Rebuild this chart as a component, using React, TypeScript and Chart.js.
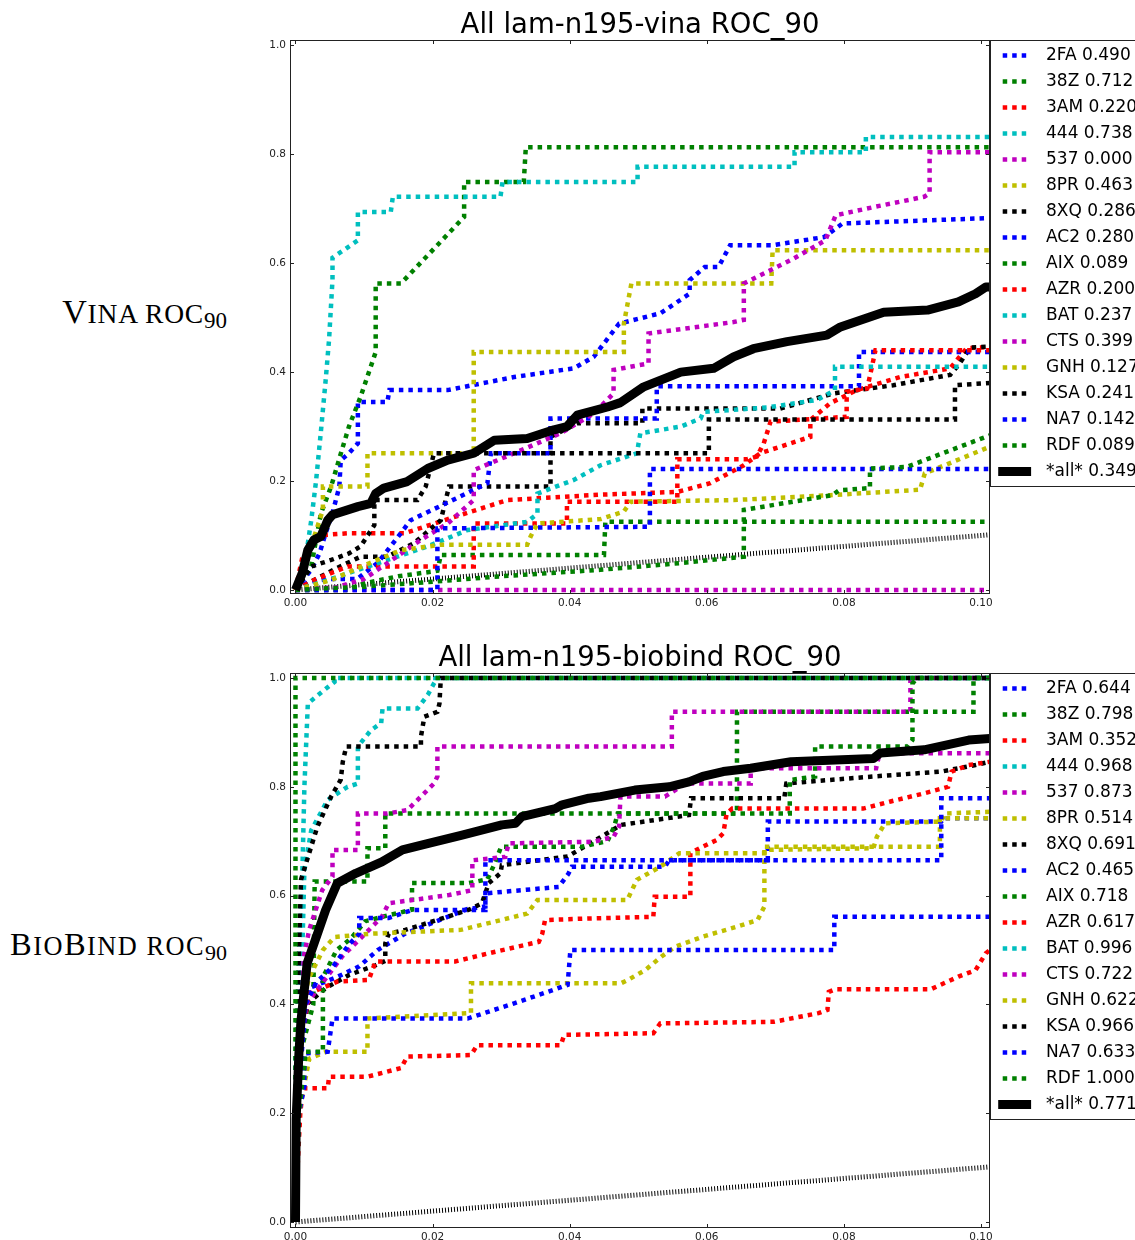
import React, { useEffect, useRef } from 'react';
import { Chart, registerables } from 'chart.js';

Chart.register(...registerables);

type Pt = [number, number];

// ---------- shared data ----------
const targets: string[] = ['2FA', '38Z', '3AM', '444', '537', '8PR', '8XQ', 'AC2', 'AIX', 'AZR', 'BAT', 'CTS', 'GNH', 'KSA', 'NA7', 'RDF', '*all*'];
const lineColors: string[] = ['#0000ff', '#008000', '#ff0000', '#00bfbf', '#bf00bf', '#bfbf00', '#000000', '#0000ff', '#008000', '#ff0000', '#00bfbf', '#bf00bf', '#bfbf00', '#000000', '#0000ff', '#008000', '#000000'];
const vinaAuc: number[] = [0.490, 0.712, 0.220, 0.738, 0.000, 0.463, 0.286, 0.280, 0.089, 0.200, 0.237, 0.399, 0.127, 0.241, 0.142, 0.089, 0.349];
const biobindAuc: number[] = [0.644, 0.798, 0.352, 0.968, 0.873, 0.514, 0.691, 0.465, 0.718, 0.617, 0.996, 0.722, 0.622, 0.966, 0.633, 1.000, 0.771];
const xTicks: number[] = [0, 0.02, 0.04, 0.06, 0.08, 0.10];
const yTicks: number[] = [0, 0.2, 0.4, 0.6, 0.8, 1.0];
const randomLine: Pt[] = [[0, 0], [0.1013, 0.1013]];

// ---------- Vina ROC curves (FPR, TPR) ----------
const v2FA: Pt[] = [[0,0],[0.0023,0.037],[0.0035,0.067],[0.0044,0.104],[0.0054,0.141],[0.0064,0.19],[0.0066,0.238],[0.0078,0.251],[0.0091,0.269],[0.0091,0.345],[0.0134,0.345],[0.0137,0.367],[0.0222,0.367],[0.0319,0.391],[0.0406,0.407],[0.0435,0.428],[0.0472,0.489],[0.0532,0.508],[0.0575,0.544],[0.0575,0.569],[0.0597,0.593],[0.0617,0.593],[0.0634,0.633],[0.0696,0.633],[0.0771,0.648],[0.0798,0.673],[0.1013,0.683]];
const v38Z: Pt[] = [[0,0],[0.0023,0.043],[0.0037,0.14],[0.0052,0.19],[0.0066,0.25],[0.0078,0.30],[0.0095,0.355],[0.0117,0.437],[0.0117,0.563],[0.0154,0.563],[0.0246,0.685],[0.0246,0.749],[0.0333,0.749],[0.0336,0.813],[0.1013,0.813]];
const v3AM: Pt[] = [[0,0],[0.0005,0.03],[0.001,0.06],[0.002,0.08],[0.003,0.1],[0.0076,0.104],[0.0159,0.104],[0.0222,0.13],[0.0309,0.165],[0.0445,0.175],[0.0557,0.18],[0.0605,0.196],[0.0654,0.229],[0.0678,0.251],[0.0736,0.275],[0.0751,0.281],[0.0751,0.312],[0.078,0.343],[0.0819,0.367],[0.0882,0.391],[0.0955,0.407],[0.0979,0.444],[0.1013,0.446]];
const v444: Pt[] = [[0,0],[0.0013,0.043],[0.0023,0.128],[0.003,0.2],[0.0037,0.29],[0.0044,0.385],[0.0049,0.46],[0.0054,0.57],[0.0054,0.61],[0.0091,0.642],[0.0091,0.694],[0.0139,0.694],[0.0142,0.722],[0.0299,0.722],[0.0302,0.749],[0.0499,0.749],[0.0499,0.777],[0.0728,0.777],[0.0728,0.804],[0.0832,0.804],[0.0832,0.832],[0.1013,0.832]];
const v537: Pt[] = [[0,0],[0.1013,0]];
const v8PR: Pt[] = [[0,0],[0.002,0.07],[0.004,0.147],[0.004,0.19],[0.0105,0.19],[0.0105,0.251],[0.026,0.251],[0.026,0.437],[0.0479,0.437],[0.0479,0.489],[0.049,0.563],[0.0694,0.563],[0.0696,0.624],[0.1013,0.624]];
const v8XQ: Pt[] = [[0,0],[0.003,0.02],[0.006,0.04],[0.0095,0.061],[0.0134,0.061],[0.0173,0.086],[0.0212,0.128],[0.0224,0.19],[0.0372,0.19],[0.0372,0.281],[0.0411,0.306],[0.0506,0.306],[0.0506,0.333],[0.0707,0.333],[0.0785,0.361],[0.0872,0.376],[0.0955,0.395],[0.0969,0.416],[0.0984,0.445],[0.1013,0.447]];
const vAC2: Pt[] = [[0,0],[0.002,0.015],[0.005,0.02],[0.009,0.02],[0.012,0.05],[0.0145,0.09],[0.0168,0.128],[0.0221,0.16],[0.028,0.196],[0.0285,0.251],[0.0372,0.251],[0.0372,0.315],[0.0527,0.315],[0.0527,0.374],[0.0822,0.374],[0.0822,0.437],[0.1013,0.437]];
const vAIX: Pt[] = [[0,0],[0.0076,0],[0.01,0.012],[0.015,0.025],[0.0207,0.035],[0.0212,0.064],[0.045,0.064],[0.0452,0.125],[0.1013,0.125]];
const vAZR: Pt[] = [[0,0],[0.003,0.02],[0.0076,0.043],[0.026,0.043],[0.026,0.122],[0.0396,0.122],[0.0396,0.162],[0.0557,0.162],[0.0557,0.24],[0.0659,0.24],[0.0673,0.245],[0.0683,0.269],[0.0693,0.309],[0.0804,0.318],[0.0804,0.364],[0.0834,0.37],[0.0846,0.44],[0.1013,0.44]];
const vBAT: Pt[] = [[0,0],[0.0047,0.018],[0.0134,0.055],[0.0193,0.08],[0.0251,0.11],[0.0338,0.125],[0.0353,0.14],[0.0353,0.177],[0.0406,0.202],[0.0445,0.229],[0.0498,0.251],[0.0503,0.2875],[0.0562,0.30],[0.0591,0.315],[0.0595,0.327],[0.0688,0.335],[0.0761,0.349],[0.0787,0.367],[0.0787,0.41],[0.1013,0.41]];
const vCTS: Pt[] = [[0,0],[0.006,0.005],[0.01,0.02],[0.0134,0.049],[0.0183,0.092],[0.0222,0.122],[0.026,0.165],[0.026,0.22],[0.0319,0.251],[0.0387,0.288],[0.0435,0.324],[0.0464,0.361],[0.0464,0.404],[0.0515,0.416],[0.0515,0.471],[0.0639,0.492],[0.0654,0.496],[0.0654,0.563],[0.0723,0.606],[0.0773,0.642],[0.0788,0.688],[0.0843,0.703],[0.0917,0.722],[0.0925,0.728],[0.0925,0.804],[0.1013,0.804]];
const vGNH: Pt[] = [[0,0],[0.0052,0.018],[0.01,0.045],[0.0154,0.073],[0.0212,0.083],[0.0338,0.083],[0.0343,0.098],[0.0353,0.122],[0.0445,0.13],[0.0479,0.144],[0.0489,0.162],[0.0639,0.165],[0.078,0.174],[0.0911,0.184],[0.0918,0.214],[0.1013,0.263]];
const vKSA: Pt[] = [[0,0],[0.0023,0.043],[0.0052,0.055],[0.0078,0.067],[0.0095,0.08],[0.0115,0.119],[0.0115,0.165],[0.0178,0.165],[0.019,0.19],[0.0202,0.251],[0.0603,0.251],[0.0603,0.313],[0.0962,0.313],[0.0962,0.376],[0.1013,0.38]];
const vNA7: Pt[] = [[0,0],[0.0207,0],[0.0207,0.113],[0.0517,0.116],[0.0517,0.222],[0.1013,0.222]];
const vRDF: Pt[] = [[0,0],[0.01,0.006],[0.02,0.015],[0.03,0.025],[0.0445,0.037],[0.055,0.048],[0.0654,0.061],[0.0654,0.147],[0.0783,0.174],[0.0793,0.183],[0.0838,0.187],[0.0838,0.223],[0.0892,0.226],[0.1013,0.284]];
const vAll: Pt[] = [[0,0],[0.001,0.031],[0.0018,0.073],[0.0027,0.092],[0.0037,0.098],[0.0047,0.128],[0.0054,0.138],[0.0091,0.153],[0.011,0.159],[0.0117,0.177],[0.0129,0.187],[0.0163,0.199],[0.0193,0.223],[0.0222,0.2385],[0.026,0.251],[0.029,0.275],[0.0338,0.278],[0.0377,0.294],[0.0396,0.30],[0.0411,0.321],[0.0455,0.336],[0.0474,0.344],[0.0508,0.373],[0.0562,0.40],[0.061,0.407],[0.0639,0.428],[0.0668,0.443],[0.0717,0.456],[0.0775,0.468],[0.0795,0.483],[0.0858,0.51],[0.0922,0.514],[0.0967,0.529],[0.0992,0.544],[0.1007,0.5565],[0.1013,0.5565]];

// ---------- BioBind ROC curves (FPR, TPR) ----------
const b2FA: Pt[] = [[0,0],[0.0003,0.2],[0.001,0.35],[0.002,0.43],[0.004,0.44],[0.006,0.45],[0.0093,0.47],[0.012,0.5],[0.016,0.53],[0.02,0.55],[0.025,0.575],[0.0277,0.58],[0.0277,0.604],[0.033,0.61],[0.0384,0.616],[0.0398,0.64],[0.0403,0.653],[0.0539,0.653],[0.0545,0.665],[0.0689,0.665],[0.0689,0.736],[0.0942,0.736],[0.0945,0.742],[0.1013,0.742]];
const b38Z: Pt[] = [[0,0],[0.0005,0.3],[0.0026,0.4],[0.0028,0.626],[0.0105,0.626],[0.0105,0.687],[0.0131,0.687],[0.0131,0.751],[0.0644,0.751],[0.0644,0.938],[0.0989,0.938],[0.0989,1.0],[0.1013,1.0]];
const b3AM: Pt[] = [[0,0],[0.0003,0.1],[0.0007,0.2],[0.001,0.237],[0.0013,0.246],[0.0047,0.246],[0.0049,0.267],[0.0105,0.267],[0.0154,0.283],[0.0163,0.304],[0.0256,0.307],[0.0265,0.325],[0.0387,0.325],[0.0392,0.344],[0.0522,0.347],[0.0532,0.365],[0.0698,0.368],[0.0763,0.384],[0.0776,0.39],[0.0778,0.423],[0.0788,0.428],[0.0927,0.428],[0.0967,0.451],[0.0992,0.463],[0.1007,0.494],[0.1013,0.5]];
const b444: Pt[] = [[0,0],[0.0005,0.3],[0.001,0.5],[0.0013,0.647],[0.0023,0.72],[0.0047,0.776],[0.0076,0.80],[0.0091,0.806],[0.0091,0.874],[0.011,0.904],[0.0125,0.917],[0.0127,0.944],[0.0178,0.944],[0.0193,0.969],[0.0202,0.99],[0.0207,1.0],[0.1013,1.0]];
const b537: Pt[] = [[0,0],[0.0003,0.3],[0.001,0.475],[0.002,0.537],[0.0039,0.61],[0.0054,0.635],[0.0054,0.684],[0.0091,0.684],[0.0091,0.751],[0.0134,0.751],[0.0163,0.757],[0.0183,0.782],[0.0202,0.806],[0.0207,0.819],[0.0207,0.874],[0.0549,0.874],[0.0549,0.938],[0.0897,0.938],[0.0897,1.0],[0.1013,1.0]];
const b8PR: Pt[] = [[0,0],[0.0005,0.2],[0.002,0.3],[0.0045,0.313],[0.0105,0.313],[0.0105,0.374],[0.0256,0.384],[0.0256,0.439],[0.0475,0.439],[0.0485,0.445],[0.051,0.463],[0.0534,0.488],[0.0554,0.506],[0.0594,0.5245],[0.0644,0.543],[0.0674,0.555],[0.0684,0.58],[0.0684,0.684],[0.0843,0.687],[0.0848,0.708],[0.086,0.733],[0.0942,0.736],[0.0947,0.751],[0.1013,0.754]];
const b8XQ: Pt[] = [[0,0],[0.0005,0.3],[0.0018,0.402],[0.0044,0.43],[0.0078,0.454],[0.0117,0.472],[0.0131,0.48],[0.0131,0.512],[0.0136,0.53],[0.016,0.537],[0.0214,0.558],[0.0253,0.574],[0.0272,0.586],[0.0282,0.623],[0.0299,0.641],[0.0301,0.656],[0.0397,0.672],[0.0435,0.70],[0.0475,0.73],[0.0574,0.748],[0.0577,0.779],[0.0713,0.779],[0.0716,0.806],[0.0743,0.809],[0.0843,0.819],[0.0942,0.828],[0.0992,0.84],[0.1013,0.846]];
const bAC2: Pt[] = [[0,0],[0.0005,0.2],[0.0013,0.25],[0.0013,0.31],[0.0047,0.313],[0.0054,0.374],[0.0251,0.374],[0.0319,0.402],[0.0377,0.427],[0.0397,0.436],[0.0401,0.5],[0.0786,0.5],[0.0786,0.561],[0.1013,0.561]];
const bAIX: Pt[] = [[0,0],[0.0005,0.2],[0.0015,0.313],[0.004,0.313],[0.004,0.45],[0.006,0.5],[0.008,0.52],[0.0102,0.553],[0.0136,0.564],[0.017,0.574],[0.017,0.623],[0.0253,0.623],[0.028,0.63],[0.0291,0.66],[0.03,0.69],[0.0418,0.69],[0.0455,0.70],[0.0465,0.727],[0.047,0.751],[0.0721,0.751],[0.0721,0.8125],[0.0758,0.819],[0.0758,0.874],[0.0893,0.874],[0.09,0.886],[0.09,0.99],[0.0907,1.0],[0.1013,1.0]];
const bAZR: Pt[] = [[0,0],[0.0003,0.2],[0.001,0.35],[0.002,0.42],[0.0061,0.442],[0.0107,0.445],[0.0112,0.463],[0.0117,0.479],[0.0233,0.479],[0.0282,0.494],[0.0355,0.515],[0.036,0.53],[0.0364,0.555],[0.0428,0.558],[0.0522,0.561],[0.0524,0.598],[0.0576,0.598],[0.0576,0.678],[0.0594,0.69],[0.0614,0.702],[0.0624,0.7145],[0.0629,0.751],[0.0637,0.76],[0.0828,0.76],[0.0868,0.773],[0.0917,0.788],[0.0952,0.80],[0.0957,0.828],[0.0982,0.84],[0.1013,0.846]];
const bBAT: Pt[] = [[0,0],[0,0.3],[0.001,0.64],[0.0013,0.8],[0.0018,0.953],[0.0042,0.978],[0.0057,0.993],[0.0057,1.0],[0.1013,1.0]];
const bCTS: Pt[] = [[0,0],[0.0005,0.3],[0.0015,0.4],[0.0039,0.439],[0.0068,0.488],[0.0097,0.524],[0.0126,0.561],[0.0136,0.586],[0.0224,0.601],[0.0258,0.61],[0.0258,0.665],[0.0306,0.671],[0.0311,0.696],[0.0435,0.699],[0.0464,0.708],[0.0472,0.727],[0.0474,0.782],[0.0539,0.782],[0.0569,0.806],[0.0664,0.806],[0.0664,0.834],[0.0847,0.834],[0.0852,0.8615],[0.1013,0.8615]];
const bGNH: Pt[] = [[0,0],[0.0005,0.3],[0.001,0.4],[0.002,0.45],[0.004,0.5],[0.0057,0.524],[0.011,0.53],[0.0241,0.537],[0.029,0.552],[0.0338,0.567],[0.0353,0.592],[0.0484,0.592],[0.0498,0.629],[0.0532,0.653],[0.056,0.678],[0.0684,0.678],[0.0684,0.69],[0.094,0.69],[0.094,0.742],[0.1013,0.742]];
const bKSA: Pt[] = [[0,0],[0.0003,0.4],[0.0008,0.629],[0.0032,0.727],[0.0052,0.782],[0.0066,0.813],[0.0069,0.846],[0.0074,0.874],[0.0183,0.874],[0.0183,0.892],[0.0188,0.929],[0.0207,0.938],[0.021,0.953],[0.0212,1.0],[0.1013,1.0]];
const bNA7: Pt[] = [[0,0],[0.0005,0.25],[0.0015,0.4],[0.003,0.44],[0.0055,0.47],[0.0078,0.51],[0.0093,0.53],[0.0093,0.559],[0.0136,0.559],[0.017,0.5735],[0.0277,0.5735],[0.0277,0.665],[0.0942,0.665],[0.0942,0.779],[0.1013,0.779]];
const bRDF: Pt[] = [[0,0],[0,1.0],[0.1013,1.0]];
const bAll: Pt[] = [[0,0],[0.0001,0.19],[0.0005,0.31],[0.0008,0.37],[0.0017,0.4755],[0.0034,0.537],[0.0044,0.5735],[0.0061,0.6226],[0.0088,0.641],[0.0126,0.662],[0.0156,0.684],[0.0194,0.696],[0.0243,0.711],[0.0301,0.73],[0.0321,0.733],[0.033,0.745],[0.0379,0.76],[0.0389,0.767],[0.0428,0.779],[0.0445,0.782],[0.0495,0.794],[0.0545,0.80],[0.0574,0.809],[0.0594,0.819],[0.0624,0.828],[0.0664,0.834],[0.0723,0.846],[0.0843,0.852],[0.0853,0.862],[0.0917,0.868],[0.0982,0.886],[0.1013,0.889]];

const vinaCurves: Pt[][] = [v2FA, v38Z, v3AM, v444, v537, v8PR, v8XQ, vAC2, vAIX, vAZR, vBAT, vCTS, vGNH, vKSA, vNA7, vRDF, vAll];
const biobindCurves: Pt[][] = [b2FA, b38Z, b3AM, b444, b537, b8PR, b8XQ, bAC2, bAIX, bAZR, bBAT, bCTS, bGNH, bKSA, bNA7, bRDF, bAll];

const FONT = '"DejaVu Sans", "Bitstream Vera Sans", sans-serif';

const decorPlugin = {
  id: 'rocDecor',
  afterDatasetsDraw(chart: any) {
    const { ctx, chartArea: a, scales } = chart;
    ctx.save();
    // legend box
    const items = chart.data.datasets.filter((d: any) => d.label);
    const lx = a.right;
    const ly = a.top;
    const lh = 15.5 + (items.length - 1) * 26 + 15.5;
    ctx.fillStyle = '#ffffff';
    ctx.fillRect(lx, ly, 600, lh);
    ctx.strokeStyle = '#222';
    ctx.lineWidth = 1;
    ctx.setLineDash([]);
    ctx.strokeRect(lx + 0.5, ly + 0.5, 600, lh - 1);
    items.forEach((d: any, i: number) => {
      const cy = ly + 15.5 + i * 26;
      const dashed = d.borderDash && d.borderDash.length > 0;
      ctx.beginPath();
      ctx.setLineDash(dashed ? d.borderDash : []);
      ctx.lineDashOffset = 0;
      ctx.lineWidth = d.borderWidth;
      ctx.strokeStyle = d.borderColor;
      ctx.lineCap = dashed ? 'butt' : 'square';
      ctx.moveTo(lx + 12.7, cy);
      ctx.lineTo(lx + 36.6, cy);
      ctx.stroke();
      ctx.setLineDash([]);
      ctx.fillStyle = '#000';
      ctx.font = `17px ${FONT}`;
      ctx.textBaseline = 'middle';
      ctx.textAlign = 'left';
      ctx.fillText(d.label, lx + 56, cy);
    });
    // axes frame
    ctx.lineCap = 'butt';
    ctx.strokeStyle = '#222';
    ctx.lineWidth = 1;
    ctx.strokeRect(a.left + 0.5, a.top + 0.5, a.right - a.left - 1, a.bottom - a.top - 1);
    // inward tick marks
    ctx.beginPath();
    xTicks.forEach((v) => {
      const px = Math.round(scales.x.getPixelForValue(v)) + 0.5;
      ctx.moveTo(px, a.bottom); ctx.lineTo(px, a.bottom - 4);
      ctx.moveTo(px, a.top); ctx.lineTo(px, a.top + 4);
    });
    yTicks.forEach((v) => {
      const py = Math.round(scales.y.getPixelForValue(v)) + 0.5;
      ctx.moveTo(a.left, py); ctx.lineTo(a.left + 4, py);
      ctx.moveTo(a.right, py); ctx.lineTo(a.right - 4, py);
    });
    ctx.stroke();
    ctx.restore();
  },
};

interface PanelProps {
  title: string;
  curves: Pt[][];
  auc: number[];
  yMin: number;
  yMax: number;
  top: number;
  height: number;
}

function ROCPanel({ title, curves, auc, yMin, yMax, top, height }: PanelProps) {
  const ref = useRef<HTMLCanvasElement>(null);
  useEffect(() => {
    if (!ref.current) return;
    const datasets: any[] = curves.map((c, i) => {
      const isAll = i === curves.length - 1;
      return {
        label: `${targets[i]} ${auc[i].toFixed(3)}`,
        data: c.map(([x, y]) => ({ x, y })),
        borderColor: lineColors[i],
        backgroundColor: lineColors[i],
        borderWidth: isAll ? 9 : 4.5,
        borderDash: isAll ? [] : [4.5, 5],
        borderCapStyle: 'butt',
        borderJoinStyle: isAll ? 'round' : 'miter',
        pointRadius: 0,
        tension: 0,
        fill: false,
        order: 100 - i,
      };
    });
    datasets.push({
      label: '',
      data: randomLine.map(([x, y]) => ({ x, y })),
      borderColor: '#000',
      borderWidth: 5,
      borderDash: [1, 2],
      borderCapStyle: 'butt',
      pointRadius: 0,
      tension: 0,
      fill: false,
      order: 200,
    });
    const tickFont = { family: FONT, size: 10.5 };
    const chart = new Chart(ref.current, {
      type: 'line',
      data: { datasets },
      options: {
        animation: false,
        responsive: false,
        maintainAspectRatio: false,
        devicePixelRatio: 1,
        events: [],
        layout: { padding: { left: 0, right: 210, top: 0, bottom: 0 } },
        plugins: {
          legend: { display: false },
          tooltip: { enabled: false },
          title: {
            display: true,
            text: title,
            fullSize: false,
            color: '#000',
            font: { family: FONT, size: 27.5, weight: 'normal', lineHeight: 1 },
            padding: { top: 12.5, bottom: 0 },
          },
        },
        scales: {
          x: {
            type: 'linear',
            min: -0.0008,
            max: 0.10131,
            afterFit: (s: any) => { s.height = 26; },
            afterBuildTicks: (s: any) => { s.ticks = xTicks.map((value) => ({ value })); },
            grid: { display: false, drawTicks: false },
            border: { display: false },
            ticks: { padding: 3, font: tickFont, color: '#222', maxRotation: 0, autoSkip: false, callback: (v: any) => Number(v).toFixed(2) },
          },
          y: {
            type: 'linear',
            min: yMin,
            max: yMax,
            afterFit: (s: any) => { s.width = 50; },
            afterBuildTicks: (s: any) => { s.ticks = yTicks.map((value) => ({ value })); },
            grid: { display: false, drawTicks: false },
            border: { display: false },
            ticks: { padding: 4, font: tickFont, color: '#222', autoSkip: false, callback: (v: any) => Number(v).toFixed(1) },
          },
        },
      } as any,
      plugins: [decorPlugin],
    });
    return () => chart.destroy();
  }, [title, curves, auc, yMin, yMax]);
  return (
    <canvas
      ref={ref}
      width={960}
      height={height}
      style={{ position: 'absolute', left: 240, top, width: 960, height }}
    />
  );
}

const serif = '"Liberation Serif", "DejaVu Serif", serif';

export default function App() {
  return (
    <div style={{ position: 'absolute', left: 0, top: 0, width: 1135, height: 1240, overflow: 'hidden', background: '#fff' }}>
      <div style={{ position: 'absolute', left: 0, top: 291.8, width: 227, textAlign: 'right', fontFamily: serif, fontSize: 34, lineHeight: '40px', whiteSpace: 'nowrap', color: '#000', letterSpacing: 0.8 }}>
        V<span style={{ fontSize: 27.5 }}>INA ROC</span><span style={{ fontSize: 23, position: 'relative', top: 5, letterSpacing: 0 }}>90</span>
      </div>
      <div style={{ position: 'absolute', left: 0, top: 924, width: 227, textAlign: 'right', fontFamily: serif, fontSize: 32.5, lineHeight: '40px', whiteSpace: 'nowrap', color: '#000', letterSpacing: 1.5 }}>
        B<span style={{ fontSize: 26.3 }}>IO</span>B<span style={{ fontSize: 26.3 }}>IND ROC</span><span style={{ fontSize: 22, position: 'relative', top: 5, letterSpacing: 0 }}>90</span>
      </div>
      <ROCPanel title="All lam-n195-vina ROC_90" curves={vinaCurves} auc={vinaAuc} yMin={-0.0075} yMax={1.01} top={0} height={620} />
      <ROCPanel title="All lam-n195-biobind ROC_90" curves={biobindCurves} auc={biobindAuc} yMin={-0.011} yMax={1.0092} top={633} height={621} />
    </div>
  );
}
